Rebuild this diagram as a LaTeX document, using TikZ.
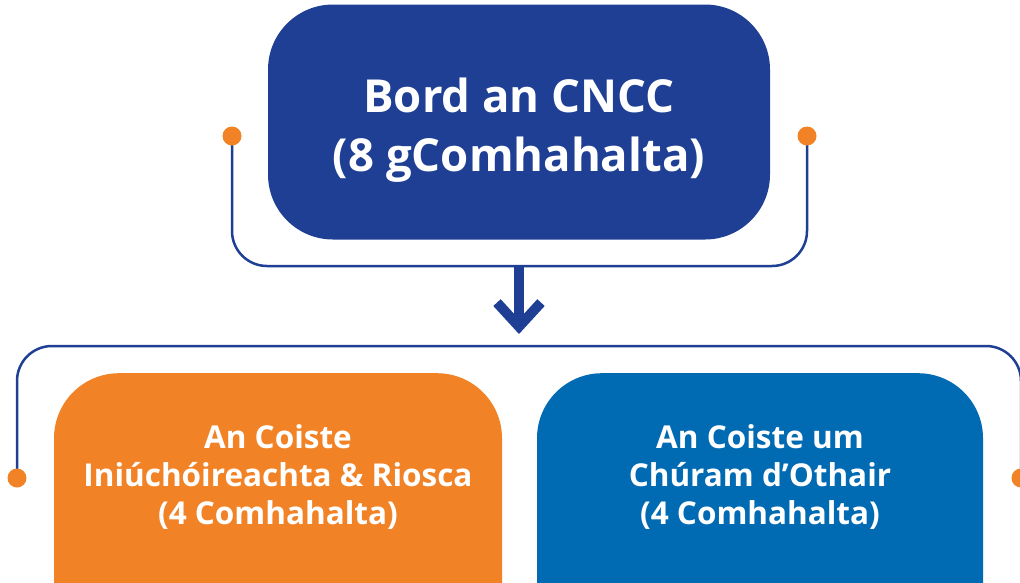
\documentclass[tikz,border=0pt]{standalone}
\usepackage{fontspec}
\setmainfont{Open Sans}
\usetikzlibrary{positioning}
\usetikzlibrary{arrows.meta}
\definecolor{cnccblue}{HTML}{1E3F94}
\definecolor{cnccorange}{HTML}{F28226}
\definecolor{cnccmid}{HTML}{006AB3}

\begin{document}
\begin{tikzpicture}[x=1pt,y=-1pt,
    box/.style={rounded corners=65pt,inner sep=0pt},
    boxtext/.style={text=white,align=center,font=\bfseries\fontsize{31.5}{38}\selectfont},
    link/.style={cnccblue,line width=2.5pt,rounded corners=35pt},
    dot/.style={circle,fill=cnccorange,inner sep=0pt,minimum size=19pt}]
                        \useasboundingbox (0,0) rectangle (1020,582);
                        \clip (0,0) rectangle (1020,582);
                        \node[box,fill=cnccblue,minimum width=502pt,minimum height=235pt] (board) at (519,122) {};
                        \node[box,fill=cnccorange,anchor=north,minimum width=448pt,minimum height=300pt] (audit) at (278,373) {};
                        \node[box,fill=cnccmid,anchor=north,minimum width=446pt,minimum height=300pt] (care) at (760,373) {};
                        \node[boxtext,font=\bfseries\fontsize{45.5}{59}\selectfont,below=8pt of board.center,anchor=center] (boardtxt) {Bord an CNCC\\(8 gComhahalta)};
                        \node[boxtext,below=48pt of audit.north] (audittxt) {An Coiste\\Iniúchóireachta \& Riosca\\(4 Comhahalta)};
                        \node[boxtext,below=48pt of care.north] (caretxt) {An Coiste um\\Chúram d’Othair\\(4 Comhahalta)};
                        \coordinate (split) at (519,266);
                        \coordinate (join) at (519,334);
                        \coordinate (dtl) at (232,136);
                        \coordinate (dtr) at (807,136);
                        \coordinate (dbl) at (17,478);
                        \coordinate (dbr) at (1021,478);
                        \draw[link] (dtl) |- (split) -| (dtr);
                        \draw[link] (dbl) |- (join |- 0,346) -| (dbr);
                        \draw[cnccblue,line width=10pt,-{Straight Barb[length=24pt,width=44pt]}] (split) -- (join);
                        \node[dot] (tl) at (dtl) {};
                        \node[dot] (tr) at (dtr) {};
                        \node[dot] (bl) at (dbl) {};
                        \node[dot] (br) at (dbr) {};
                    \end{tikzpicture}
\end{document}
